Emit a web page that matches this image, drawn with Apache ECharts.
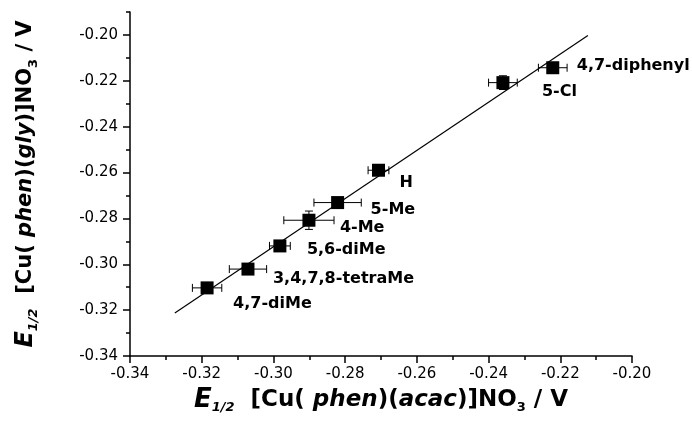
<!DOCTYPE html>
<html>
<head>
<meta charset="utf-8">
<script src="https://cdn.jsdelivr.net/npm/echarts@6/dist/echarts.min.js"></script>
<style>
  html, body { margin: 0; padding: 0; background: #fff; }
  #chart { width: 692px; height: 430px; }
</style>
</head>
<body>
<div id="chart"></div>
<script>
// ligands and their half-wave potentials (V)
const ligands = ["4,7-diMe", "3,4,7,8-tetraMe", "5,6-diMe", "4-Me", "5-Me", "H", "5-Cl", "4,7-diphenyl"]
const acacE = [-0.3185, -0.3071, -0.2982, -0.2901, -0.2821, -0.2707, -0.2360, -0.2221]
const glyE = [-0.3103, -0.3021, -0.2920, -0.2808, -0.2731, -0.2590, -0.2208, -0.2143]
const acacErr = [0.0041, 0.0052, 0.0029, 0.0070, 0.0066, 0.0029, 0.0040, 0.0040]
const glyErr = [0.002, 0.002, 0.002, 0.004, 0.002, 0.002, 0.003, 0.002]

// linear fit line end points
const fitX = [-0.3275, -0.2123]
const fitY = [-0.3212, -0.2002]

const majorTicks = [-0.34, -0.32, -0.30, -0.28, -0.26, -0.24, -0.22, -0.20]

// label offsets from marker centre, px
const labelOffsets = [[26, 16], [25, 10], [27, 4], [31, 8], [33, 7], [21, 13], [39, 9], [24, -2]]

const font = "DejaVu Sans"
const black = "#000"

let myChart = echarts.init(document.getElementById("chart"))

function titleRich(size){
    return {
        b: { fontFamily: font, fontWeight: "bold", fontSize: size, color: black },
        bi: { fontFamily: font, fontWeight: "bold", fontStyle: "italic", fontSize: size, color: black },
        e: { fontFamily: font, fontWeight: "bold", fontStyle: "italic", fontSize: size + 3, color: black },
        sub: { fontFamily: font, fontWeight: "bold", fontStyle: "italic", fontSize: 13, color: black, padding: [16, 0, 0, 0], verticalAlign: "bottom" },
        sub3: { fontFamily: font, fontWeight: "bold", fontSize: 13, color: black, padding: [16, 0, 0, 0], verticalAlign: "bottom" }
    }
}

function renderErr(params, api){
    let x = api.value(0), y = api.value(1), ex = api.value(2), ey = api.value(3)
    let l = api.coord([x - ex, y]), r = api.coord([x + ex, y])
    let t = api.coord([x, y + ey]), b = api.coord([x, y - ey])
    let cap = 4
    let style = { stroke: black, lineWidth: 1 }
    let seg = (x1, y1, x2, y2) => ({ type: "line", shape: { x1, y1, x2, y2 }, style })
    return {
        type: "group",
        children: [
            seg(l[0], l[1], r[0], r[1]),
            seg(l[0], l[1] - cap, l[0], l[1] + cap),
            seg(r[0], r[1] - cap, r[0], r[1] + cap),
            seg(t[0], t[1], b[0], b[1]),
            seg(t[0] - cap, t[1], t[0] + cap, t[1]),
            seg(b[0] - cap, b[1], b[0] + cap, b[1])
        ]
    }
}

let axisLine = { lineStyle: { color: black, width: 1.5 } }

let option = {
    animation: false,
    grid: { left: 130, right: 60, top: 12, bottom: 74 },
    xAxis: {
        type: "value",
        min: -0.34,
        max: -0.20,
        interval: 0.02,
        splitLine: { show: false },
        axisLine: axisLine,
        axisTick: { length: 7, lineStyle: { color: black, width: 1.5 } },
        minorTick: { show: true, splitNumber: 2, length: 4, lineStyle: { color: black, width: 1.5 } },
        axisLabel: { margin: 11, fontFamily: font, fontSize: 15, color: black, formatter: v => v.toFixed(2) },
        name: "{e|E}{sub|1/2}{b|  [Cu( }{bi|phen}{b|)(}{bi|acac}{b|)]NO}{sub3|3}{b| / V}",
        nameLocation: "middle",
        nameGap: 19,
        nameTextStyle: { rich: titleRich(23) }
    },
    yAxis: [
        {
            type: "value",
            min: -0.34,
            max: -0.19,
            interval: 0.01,
            splitLine: { show: false },
            axisLine: axisLine,
            axisTick: { length: 4, lineStyle: { color: black, width: 1.5 } },
            axisLabel: { show: false },
            name: "{e|E}{sub|1/2}{b|  [Cu( }{bi|phen}{b|)(}{bi|gly}{b|)]NO}{sub3|3}{b| / V}",
            nameLocation: "middle",
            nameRotate: 90,
            nameGap: 90,
            nameTextStyle: { rich: titleRich(21) }
        },
        {
            type: "value",
            min: -0.34,
            max: -0.19,
            interval: 0.01,
            position: "left",
            splitLine: { show: false },
            axisLine: { show: false },
            axisTick: { length: 7, customValues: majorTicks, lineStyle: { color: black, width: 1.5 } },
            axisLabel: { margin: 12, customValues: majorTicks, fontFamily: font, fontSize: 15, color: black, formatter: v => v.toFixed(2) }
        }
    ],
    series: [
        {
            type: "line",
            data: fitX.map((x, i) => [x, fitY[i]]),
            showSymbol: false,
            lineStyle: { color: black, width: 1.2 },
            z: 1
        },
        {
            type: "custom",
            renderItem: renderErr,
            data: acacE.map((x, i) => [x, glyE[i], acacErr[i], glyErr[i]]),
            z: 2
        },
        {
            type: "scatter",
            symbol: "rect",
            symbolSize: 13,
            itemStyle: { color: black, opacity: 1 },
            data: acacE.map((x, i) => ({
                value: [x, glyE[i]],
                label: { offset: labelOffsets[i] }
            })),
            label: {
                show: true,
                position: "inside",
                align: "left",
                verticalAlign: "middle",
                formatter: p => ligands[p.dataIndex],
                fontFamily: font,
                fontWeight: "bold",
                fontSize: 16,
                color: black,
                opacity: 1
            },
            z: 3
        }
    ]
}
myChart.setOption(option)
</script>
</body>
</html>
